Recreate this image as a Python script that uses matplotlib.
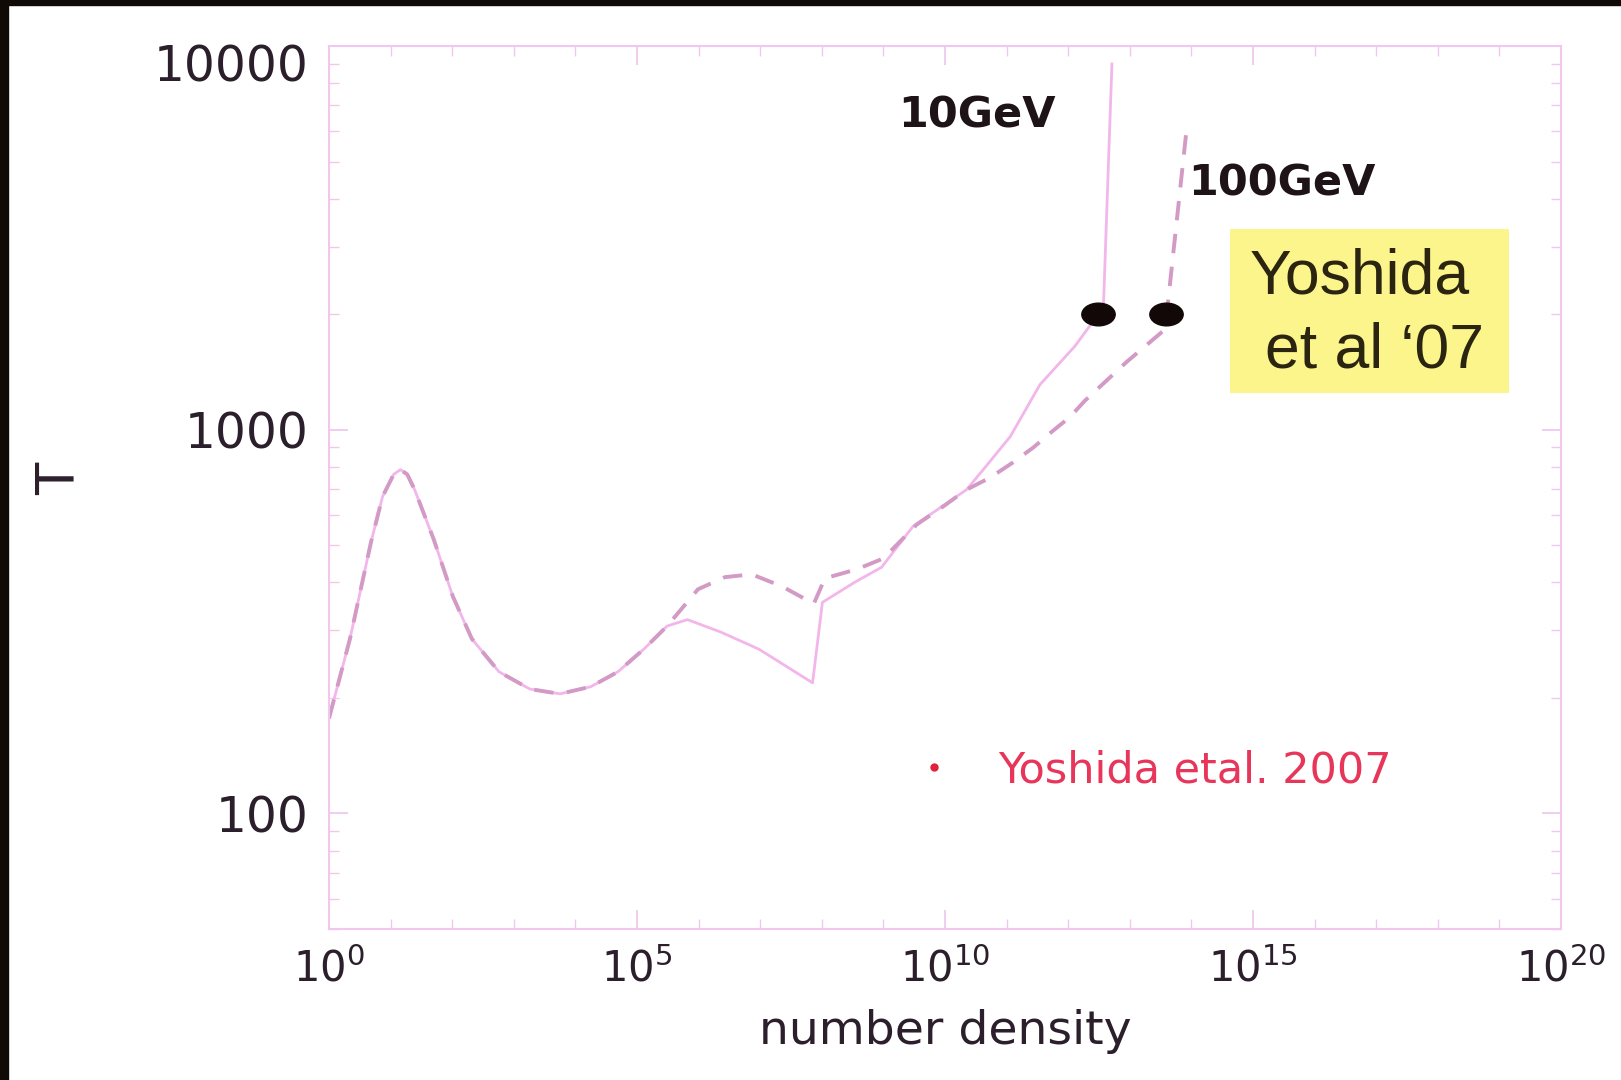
import numpy as np
import matplotlib
matplotlib.use("Agg")
import matplotlib.pyplot as plt
from matplotlib.path import Path
from matplotlib.patches import Rectangle
from matplotlib.transforms import Affine2D, ScaledTranslation
from matplotlib.ticker import FixedLocator, LogLocator, FuncFormatter, NullFormatter

# log10(number density) and T
logn_10gev = [0.0, 0.34, 0.68, 0.87, 1.05, 1.16, 1.27, 1.39, 1.70, 2.01, 2.32, 2.76, 3.26, 3.75,
              4.25, 4.69, 5.11, 5.49, 5.82, 6.36, 6.98, 7.85, 8.01, 8.54, 8.97, 9.48, 10.35,
              10.62, 11.06, 11.54, 12.11, 12.48, 12.57, 12.71]
T_10gev = [177, 285, 508, 670, 765, 787, 765, 698, 518, 368, 285, 234, 211, 205,
           214, 234, 268, 308, 320, 297, 268, 219, 355, 401, 438, 560, 698,
           787, 960, 1310, 1652, 1990, 2050, 8980]

logn_100gev = [0.0, 0.34, 0.68, 0.87, 1.05, 1.16, 1.27, 1.39, 1.70, 2.01, 2.32, 2.76, 3.26, 3.75,
               4.25, 4.69, 5.11, 5.49, 5.99, 6.43, 6.86, 7.35, 7.87, 8.05, 8.57, 9.0, 9.54,
               9.97, 10.35, 10.73, 11.1, 11.43, 11.74, 12.03, 12.27, 12.95, 13.54, 13.60,
               13.65, 13.93]
T_100gev = [177, 285, 508, 670, 765, 787, 765, 698, 518, 368, 285, 234, 211, 205,
            214, 234, 268, 308, 384, 413, 420, 391, 352, 410, 433, 462, 566,
            631, 698, 750, 821, 898, 990, 1080, 1190, 1503, 1808, 2000,
            2380, 6240]

# black dots (Yoshida et al '07)
logn_dots = [12.48, 13.59]
T_dots = [2000, 2000]

xticks_exp = [0, 5, 10, 15, 20]
yticks = [100, 1000, 10000]

line_col = "#f2b6ea"
dash_col = "#d29ac4"
frame_col = "#f0c8ee"
text_col = "#2b1f2b"

fig = plt.figure(figsize=(16.21, 10.8), dpi=100)
ax = fig.add_axes([329 / 1621, 151 / 1080, 1232 / 1621, 883 / 1080])

ax.plot(10.0 ** np.array(logn_10gev), T_10gev, color=line_col, lw=2)
ax.plot(10.0 ** np.array(logn_100gev), T_100gev, color=dash_col, lw=2.8, dashes=(5, 3.5))

ellipse = Path.unit_circle().transformed(Affine2D().scale(1.0, 0.68))
ax.plot(10.0 ** np.array(logn_dots), T_dots, linestyle="none", marker=ellipse,
        markersize=24, color="#120808", zorder=5)

ax.set_xscale("log")
ax.set_yscale("log")
ax.set_xlim(1, 1e20)
ax.set_ylim(50, 1e4)

ax.xaxis.set_major_locator(FixedLocator([10.0 ** e for e in xticks_exp]))
ax.xaxis.set_minor_locator(LogLocator(base=10, subs=[1.0], numticks=40))
ax.xaxis.set_major_formatter(FuncFormatter(lambda v, p: r"$\mathregular{10^{%d}}$" % round(np.log10(v))))
ax.xaxis.set_minor_formatter(NullFormatter())
ax.yaxis.set_major_locator(FixedLocator(yticks))
ax.yaxis.set_minor_locator(LogLocator(base=10, subs=np.arange(2, 10), numticks=20))
ax.yaxis.set_major_formatter(FuncFormatter(lambda v, p: "%d" % v))
ax.yaxis.set_minor_formatter(NullFormatter())

for s in ax.spines.values():
    s.set_color(frame_col)
    s.set_linewidth(1.5)
ax.tick_params(which="both", direction="in", top=True, right=True, color=frame_col)
ax.tick_params(which="major", length=14, width=1.3)
ax.tick_params(which="minor", length=7, width=1.0)
ax.tick_params(axis="y", which="major", pad=15, labelsize=35, labelcolor=text_col)
ax.tick_params(axis="x", which="major", pad=14, labelsize=30, labelcolor=text_col)

ax.set_xlabel("number density", fontsize=34, color=text_col)
ax.xaxis.set_label_coords(0.5, -0.091)
ax.xaxis.label.set_va("top")
ax.set_ylabel("T", fontsize=38, color=text_col)
ax.yaxis.set_label_coords(-0.219, 0.51)
ax.yaxis.label.set_va("center")

ax.text(0.462, 0.921, "10GeV", transform=ax.transAxes, fontsize=31, fontweight="bold",
        color="#1e1418", va="center", ha="left")
ax.text(0.697, 0.844, "100GeV", transform=ax.transAxes, fontsize=31, fontweight="bold",
        color="#1e1418", va="center", ha="left")

# legend for the (empty) Yoshida series
ax.plot([], [], linestyle="none", marker="o", markersize=5, color="#e0203c",
        label="Yoshida etal. 2007")
ax.legend(loc="center left", bbox_to_anchor=(0.4736, 0.180), frameon=False,
          fontsize=31, labelcolor="#e8365a", handlelength=1.0, handletextpad=1.0,
          borderpad=0, borderaxespad=0)

# yellow note box
fig.add_artist(Rectangle((1230 / 1621, 687 / 1080), 279 / 1621, 164 / 1080,
                         transform=fig.transFigure, facecolor="#fbf58c", edgecolor="none"))
fig.text(1250 / 1621, (1080 - 277) / 1080, "Yoshida", fontsize=45, family="Liberation Sans",
         color="#2a2410", va="center", ha="left")
fig.text(1265 / 1621, (1080 - 351) / 1080, "et al \u201807", fontsize=45, family="Liberation Sans",
         color="#2a2410", va="center", ha="left")

# dark slide edges
fig.add_artist(Rectangle((0, 0), 8 / 1621, 1, transform=fig.transFigure, color="#100a06"))
fig.add_artist(Rectangle((0, 1 - 5 / 1080), 1, 5 / 1080, transform=fig.transFigure, color="#100a06"))

# top y label sits a little below its tick on the slide
fig.canvas.draw()
top_lab = ax.yaxis.get_major_ticks()[-1].label1
top_lab.set_transform(top_lab.get_transform() + ScaledTranslation(0, -12 / 72, fig.dpi_scale_trans))

fig.savefig("out.png", dpi=100)
